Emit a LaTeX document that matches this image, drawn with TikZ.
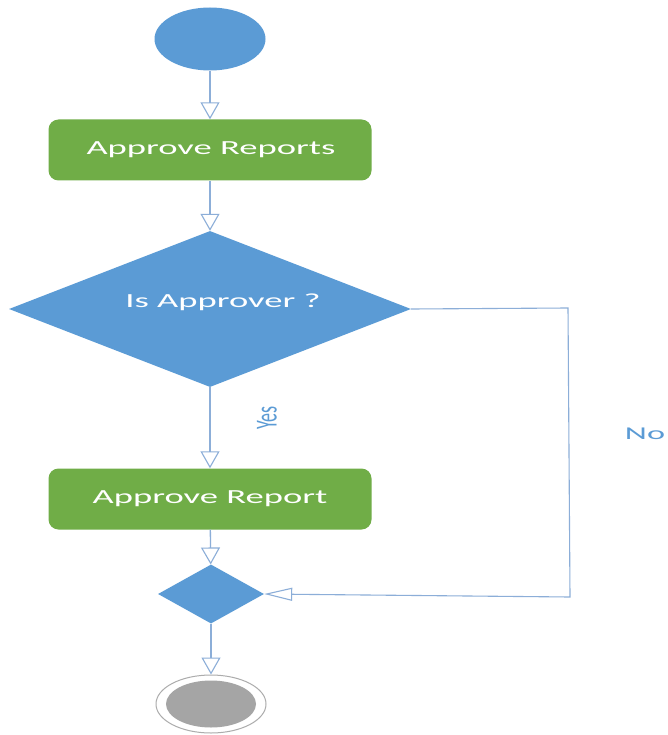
\documentclass[tikz,border=0pt]{standalone}
\usepackage{fontspec}
\setmainfont{Carlito}
\usetikzlibrary{arrows.meta,shapes.geometric}
\definecolor{flowblue}{HTML}{5B9BD5}
\definecolor{flowgreen}{HTML}{70AD47}
\definecolor{linkblue}{HTML}{8CAED8}
\definecolor{endgray}{HTML}{A5A5A5}
\begin{document}
\begin{tikzpicture}[x=1pt,y=-1pt,
  flow/.style={draw=linkblue, line width=1.3pt,
    -{Triangle[open,length=17pt,width=19pt,line width=1.1pt]}},
  sideflow/.style={draw=linkblue, line width=1.1pt,
    -{Triangle[open,length=28pt,width=13pt,line width=1.1pt]}},
  action/.style={rectangle, rounded corners=10pt, fill=flowgreen,
    minimum width=323pt, minimum height=61pt},
  caption/.style={text=white, xscale=1.83, font=\fontsize{20}{24}\selectfont},
  decision/.style={diamond, fill=flowblue, inner sep=0pt},
  label/.style={text=flowblue, font=\fontsize{18}{22}\selectfont}]
\useasboundingbox (0,0) rectangle (667,735);
\fill[white] (0,0) rectangle (667,735);

% start node
\node[ellipse, fill=flowblue, minimum width=111pt, minimum height=63pt, inner sep=0pt] (start) at (210,39) {};

% actions and decisions
\node[action] (reports) at (210,150) {};
\node[caption] (reportstext) at (211,150) {Approve Reports};
\node[decision, minimum width=402pt, minimum height=156pt] (check) at (210,309) {};
\node[caption] (checktext) at (223,302) {Is Approver ?};
\node[action] (report) at (210,499) {};
\node[caption] (reporttext) at (210,499) {Approve Report};
\node[decision, minimum width=106pt, minimum height=59pt] (merge) at (211,594) {};

% end node
\node[ellipse, draw=gray!65, line width=1pt, fill=white, minimum width=110pt, minimum height=58pt, inner sep=0pt] (final) at (211,704) {};
\node[ellipse, fill=endgray, minimum width=90pt, minimum height=47pt, inner sep=0pt] (finalin) at (211,704) {};

% connectors
\draw[flow] (start) -- (reports);
\draw[flow] (reports) -- (check);
\draw[flow] (check) -- (report);
\draw[flow] (report) -- (merge);
\draw[flow] (merge) -- (final);
\coordinate (nocorner) at (568,308);
\coordinate (nodown) at (570,597);
\draw[sideflow] (check.east) -- (nocorner) -- (nodown) -- (merge.east);

% branch labels
\node[label] (yes) at (267,418) {\rotatebox{90}{\scalebox{1}[1.7]{Yes}}};
\node[label, xscale=1.9] (no) at (645,434) {No};
\end{tikzpicture}
\end{document}
